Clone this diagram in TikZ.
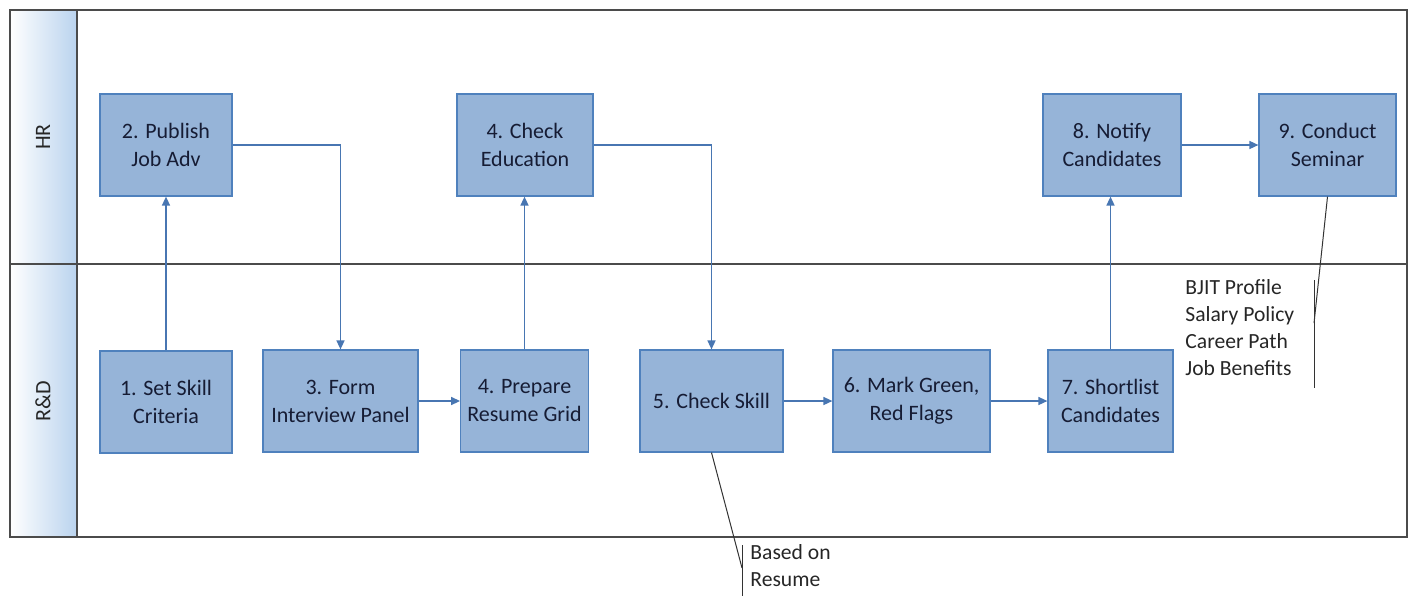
\documentclass[tikz,border=0pt]{standalone}
\usepackage{fontspec}
\setmainfont{Carlito}
\usepackage{xcolor}
\usetikzlibrary{arrows.meta,positioning,calc}
\definecolor{taskfill}{RGB}{150,180,216}
\definecolor{taskline}{RGB}{79,129,189}
\definecolor{flowblue}{RGB}{72,118,178}
\definecolor{lanehead}{RGB}{186,211,238}
\definecolor{poolline}{RGB}{75,75,75}
\definecolor{tasktext}{RGB}{22,28,52}

\begin{document}
\begin{tikzpicture}[
    x=0.5pt, y=-0.5pt, % one unit = one pixel of the sketch
    task/.style={rectangle, draw=taskline, fill=taskfill, line width=0.6pt, minimum height=51pt, align=center, text=tasktext, font=\fontsize{11}{14}\selectfont},
    lanelabel/.style={rotate=90, font=\fontsize{11}{14}\selectfont, text=black!85},
    note/.style={align=left, anchor=north west, inner sep=0pt, font=\fontsize{10.8}{13.5}\selectfont, text=black!85},
    flow/.style={-{Triangle[length=4.5pt, width=4pt]}, line width=0.75pt, color=flowblue},
    callout/.style={line width=0.5pt, color=black!80}
]

    \useasboundingbox (0,0) rectangle (1411,596);

    % --- Pool and lanes ---
    \shade[left color=white, right color=lanehead] (10,10) rectangle (77,537);
    \draw[poolline, line width=0.75pt] (10,10) rectangle (1407,537);
    \draw[poolline, line width=0.75pt] (77,10) -- (77,537);
    \draw[poolline, line width=0.75pt] (10,264) -- (1407,264);
    \node[lanelabel] (hr-lane) at (43,137) {HR};
    \node[lanelabel] (rd-lane) at (43,401) {R\&D};

    % --- HR tasks ---
    \node[task, minimum width=66pt] (publish) at (166,145) {2. Publish\\Job Adv};
    \node[task, minimum width=68pt] (check-edu) at (525,145) {4. Check\\Education};
    \node[task, minimum width=69pt] (notify) at (1112,145) {8. Notify\\Candidates};
    \node[task, minimum width=68.5pt] (seminar) at (1327.5,145) {9. Conduct\\Seminar};

    % --- R&D tasks ---
    \node[task, minimum width=66pt] (set-skill) at (166,402) {1. Set Skill\\Criteria};
    \node[task, minimum width=77.5pt] (panel) at (340.5,401) {3. Form\\Interview Panel};
    \node[task, minimum width=62.5pt] (grid) at (524.5,401) {4. Prepare\\Resume Grid};
    \node[task, minimum width=71.5pt] (check-skill) at (711.5,401) {5. Check Skill};
    \node[task, minimum width=78.5pt] (flags) at (911.5,401) {6. Mark Green,\\Red Flags};
    \node[task, minimum width=62.5pt] (shortlist) at (1110.5,401) {7. Shortlist\\Candidates};

    % --- Flow ---
    \draw[flow] (set-skill) -- (publish);
    \draw[flow] (publish.east) -| (panel.north);
    \draw[flow] (panel) -- (grid);
    \draw[flow] (grid.north) -- (grid.north |- check-edu.south);
    \draw[flow] (check-edu.east) -| (check-skill.north);
    \draw[flow] (check-skill) -- (flags);
    \draw[flow] (flags) -- (shortlist);
    \draw[flow] (shortlist.north) -- (shortlist.north |- notify.south);
    \draw[flow] (notify) -- (seminar);

    % --- Annotations ---
    \node[note] (resume-note) at (750,544) {Based on\\Resume};
    \coordinate (resume-top) at (742,545);
    \coordinate (resume-bot) at (742,596);
    \draw[callout] (resume-top) -- (resume-bot);
    \draw[callout] (check-skill.south) -- ($(resume-top)!0.45!(resume-bot)$);

    \node[note] (seminar-note) at (1185,279) {BJIT Profile\\Salary Policy\\Career Path\\Job Benefits};
    \coordinate (seminar-top) at (1314,280);
    \coordinate (seminar-bot) at (1314,388);
    \draw[callout] (seminar-top) -- (seminar-bot);
    \draw[callout] (seminar.south) -- ($(seminar-top)!0.4!(seminar-bot)$);

\end{tikzpicture}
\end{document}
